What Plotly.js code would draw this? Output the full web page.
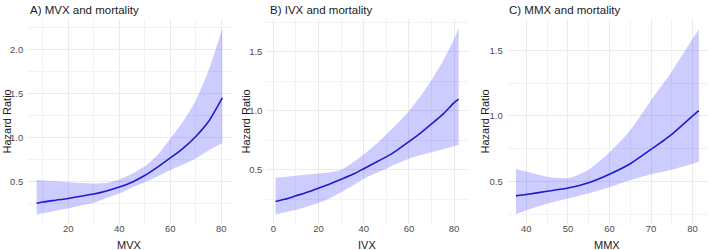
<!DOCTYPE html>
<html>
<head>
<meta charset="utf-8">
<script src="https://cdn.plot.ly/plotly-3.0.1.min.js"></script>
<style>html,body{margin:0;padding:0;background:#fff;}#chart{width:709px;height:250px;}</style>
</head>
<body>
<div id="chart"></div>
<script>
// Panel A: MVX
const mvxX     = [7.6, 10, 15, 20, 25, 30, 35, 40, 45, 50, 55, 60, 65, 70, 75, 80.4];
const mvxHR    = [0.25, 0.265, 0.285, 0.305, 0.33, 0.355, 0.39, 0.435, 0.49, 0.565, 0.66, 0.765, 0.875, 1.01, 1.18, 1.45];
const mvxUpper = [0.515, 0.51, 0.50, 0.49, 0.48, 0.475, 0.48, 0.52, 0.585, 0.67, 0.80, 0.985, 1.18, 1.42, 1.76, 2.24];
const mvxLower = [0.12, 0.135, 0.165, 0.19, 0.225, 0.255, 0.31, 0.36, 0.43, 0.49, 0.555, 0.625, 0.69, 0.76, 0.85, 0.935];

// Panel B: IVX
const ivxX     = [1, 5, 10, 15, 20, 25, 30, 35, 40, 45, 50, 55, 60, 65, 70, 75, 80, 82];
const ivxHR    = [0.232, 0.25, 0.28, 0.31, 0.345, 0.38, 0.42, 0.46, 0.51, 0.56, 0.61, 0.67, 0.74, 0.81, 0.89, 0.97, 1.07, 1.10];
const ivxUpper = [0.435, 0.44, 0.45, 0.46, 0.47, 0.48, 0.50, 0.56, 0.63, 0.71, 0.80, 0.895, 1.0, 1.12, 1.26, 1.42, 1.61, 1.70];
const ivxLower = [0.12, 0.14, 0.16, 0.19, 0.22, 0.26, 0.31, 0.365, 0.425, 0.47, 0.51, 0.555, 0.595, 0.625, 0.65, 0.675, 0.70, 0.71];

// Panel C: MMX
const mmxX     = [37.5, 40, 45, 50, 55, 60, 65, 70, 75, 80, 81.5];
const mmxHR    = [0.39, 0.40, 0.425, 0.45, 0.49, 0.555, 0.635, 0.745, 0.86, 1.0, 1.04];
const mmxUpper = [0.595, 0.575, 0.535, 0.525, 0.59, 0.72, 0.89, 1.12, 1.34, 1.59, 1.66];
const mmxLower = [0.25, 0.28, 0.33, 0.37, 0.41, 0.455, 0.51, 0.555, 0.59, 0.635, 0.65];

const panelTitles = ["A) MVX and mortality", "B) IVX and mortality", "C) MMX and mortality"];
const xTitles = ["MVX", "IVX", "MMX"];
const yTitle = "Hazard Ratio";

const W = 709, H = 250;
const bandFill = "rgba(0,0,255,0.2)";
const lineCol = "#1c1ccc";
const gridCol = "#ebebeb";
const fontFam = "Liberation Sans, Arial, sans-serif";

const panels = [
  {x: mvxX, hr: mvxHR, up: mvxUpper, lo: mvxLower, xs: "x", ys: "y"},
  {x: ivxX, hr: ivxHR, up: ivxUpper, lo: ivxLower, xs: "x2", ys: "y2"},
  {x: mmxX, hr: mmxHR, up: mmxUpper, lo: mmxLower, xs: "x3", ys: "y3"}
];

const traces = [];
panels.forEach(p => {
  traces.push({x: p.x, y: p.lo, xaxis: p.xs, yaxis: p.ys, type: "scatter", mode: "lines",
    line: {width: 0, shape: "spline", smoothing: 0.6}, hoverinfo: "skip", showlegend: false});
  traces.push({x: p.x, y: p.up, xaxis: p.xs, yaxis: p.ys, type: "scatter", mode: "lines",
    line: {width: 0, shape: "spline", smoothing: 0.6}, fill: "tonexty", fillcolor: bandFill,
    hoverinfo: "skip", showlegend: false});
  traces.push({x: p.x, y: p.hr, xaxis: p.xs, yaxis: p.ys, type: "scatter", mode: "lines",
    line: {width: 1.6, color: lineCol, shape: "spline", smoothing: 0.6}, showlegend: false});
});

// pixel domains
const px = v => v / W;
const yDom = [(H - 224) / H, (H - 19) / H];
const xDoms = [[px(27.3), px(231.6)], [px(266.4), px(467.8)], [px(506.8), px(708)]];
const xRanges = [[3.96, 84.04], [-3.05, 86.05], [35.3, 83.7]];
const yRanges = [[0.014, 2.346], [0.041, 1.779], [0.175, 1.74]];
const xDticks = [20, 20, 10];

function xax(i) {
  return {
    domain: xDoms[i], range: xRanges[i], anchor: i === 0 ? "y" : "y" + (i + 1),
    dtick: xDticks[i], tick0: 0, showgrid: true, gridcolor: gridCol, gridwidth: 1,
    minor: {dtick: xDticks[i] / 2, tick0: 0, showgrid: true, gridcolor: gridCol, gridwidth: 0.6},
    zeroline: false, showline: false, ticks: "",
    tickfont: {family: fontFam, size: 9.5, color: "#4d4d4d"}, ticklabelstandoff: -3
  };
}
function yax(i) {
  return {
    domain: yDom, range: yRanges[i], anchor: i === 0 ? "x" : "x" + (i + 1),
    dtick: 0.5, tick0: 0, tickformat: ".1f", showgrid: true, gridcolor: gridCol, gridwidth: 1,
    minor: {dtick: 0.25, tick0: 0, showgrid: true, gridcolor: gridCol, gridwidth: 0.6},
    zeroline: false, showline: false, ticks: "",
    tickfont: {family: fontFam, size: 9.5, color: "#4d4d4d"}, ticklabelstandoff: 3
  };
}

const annotations = [];
const titleX = [28, 267.5, 507];
const yTitleX = [6, 245, 484];
for (let i = 0; i < 3; i++) {
  annotations.push({text: panelTitles[i], xref: "paper", yref: "paper", x: px(titleX[i]), y: 1 - 10 / H,
    xanchor: "left", yanchor: "middle", showarrow: false, font: {family: fontFam, size: 11.5, color: "#1a1a1a"}});
  annotations.push({text: xTitles[i], xref: "paper", yref: "paper",
    x: (xDoms[i][0] + xDoms[i][1]) / 2, y: 1 - 244.5 / H,
    xanchor: "center", yanchor: "middle", showarrow: false, font: {family: fontFam, size: 11, color: "#1a1a1a"}});
  annotations.push({text: yTitle, xref: "paper", yref: "paper", x: px(yTitleX[i]), y: 1 - 121.5 / H,
    xanchor: "center", yanchor: "middle", textangle: -90, showarrow: false,
    font: {family: fontFam, size: 11, color: "#1a1a1a"}});
}

const layout = {
  width: W, height: H, margin: {l: 0, r: 0, t: 0, b: 0},
  paper_bgcolor: "#ffffff", plot_bgcolor: "#ffffff",
  xaxis: xax(0), xaxis2: xax(1), xaxis3: xax(2),
  yaxis: yax(0), yaxis2: yax(1), yaxis3: yax(2),
  annotations: annotations, showlegend: false
};

Plotly.newPlot("chart", traces, layout, {displayModeBar: false, staticPlot: true});
</script>
</body>
</html>
